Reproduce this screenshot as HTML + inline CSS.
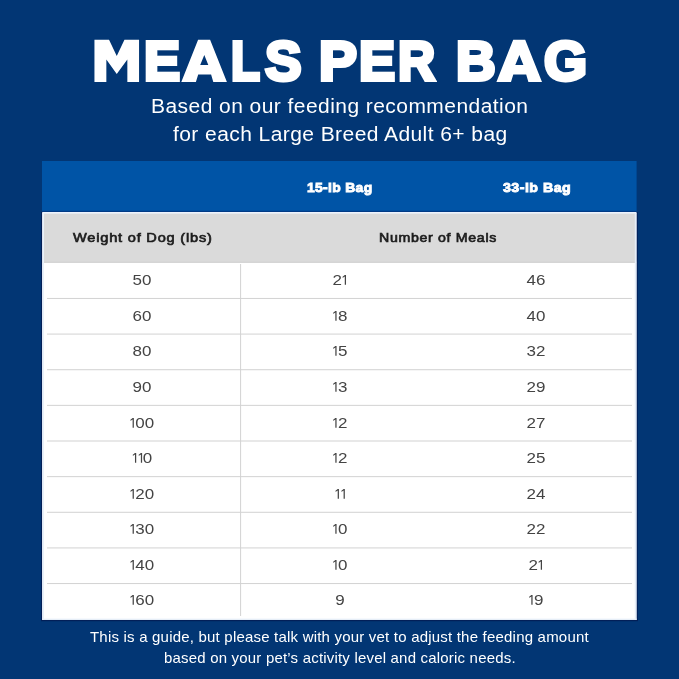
<!DOCTYPE html>
<html>
<head>
<meta charset="utf-8">
<title>Meals Per Bag</title>
<style>
  html, body { margin: 0; padding: 0; }
  body {
    width: 679px; height: 679px; overflow: hidden; position: relative;
    background: #023674;
    font-family: "Liberation Sans", sans-serif;
  }
  #page { position: absolute; left: 0; top: 0; width: 679px; height: 679px; will-change: transform; }
  .t { position: absolute; white-space: nowrap; line-height: 1; transform-origin: 0 0; }
  .tl { font-weight: bold; color: #fff; font-size: 56.0px; -webkit-text-stroke: 3.9px #fff; }
  .tg { position: absolute; fill: #fff; overflow: visible; }
  .sub { color: #fff; -webkit-text-stroke: 0px #fff; }
  #grid { position: absolute; left: 0; top: 0; }
  .bh { font-weight: bold; color: #fff; -webkit-text-stroke: 0.9px #fff; }
  .gh { color: #1c1c1c; -webkit-text-stroke: 0.65px #1c1c1c; }
  .c { position: absolute; width: 80px; height: 20px; line-height: 20px; text-align: center;
       font-size: 14.4px; color: #444; letter-spacing: 0px; transform: scaleX(1.18); }
  .one { display: inline-block; vertical-align: baseline; position: relative; top: -0.5px; margin: 0 0.85px 0 0.8px; fill: #444; overflow: visible; }
  .foot { color: #fff; -webkit-text-stroke: 0px #fff; }
</style>
</head>
<body>
<div id="page">
<div id="title"><svg class="tg" style="left:94px;top:39px" width="47" height="45"><path transform="translate(0.45 0.80)" d="M0 0H14.6L22.3 16.1L30 0H44.6V42.1H32.9V19.6L22.3 34.2L11.9 19.6V42.1H0Z"/></svg><span class="t tl" style="left:144.24px;top:33.0px;transform:scaleX(0.9656)">E</span><svg class="tg" style="left:181px;top:39px" width="48" height="45"><path fill-rule="evenodd" transform="translate(0.30 0.80)" d="M0 42.1L16.8 0H28.8L45.6 42.1H32L29.8 34.6H16.9L14.6 42.1ZM23 15.2L27 25.1H18.9Z"/></svg><span class="t tl" style="left:231.0px;top:33.0px;transform:scaleX(0.8461)">L</span><span class="t tl" style="left:264.53px;top:33.0px;transform:scaleX(0.9777)">S</span><span class="t tl" style="left:319.18px;top:33.0px;transform:scaleX(1.016)">P</span><span class="t tl" style="left:358.61px;top:33.0px;transform:scaleX(0.966)">E</span><span class="t tl" style="left:398.34px;top:33.0px;transform:scaleX(0.9191)">R</span><span class="t tl" style="left:455.85px;top:33.0px;transform:scaleX(0.9797)">B</span><svg class="tg" style="left:496px;top:39px" width="48" height="45"><path fill-rule="evenodd" transform="translate(0.40 0.80)" d="M0 42.1L16.8 0H28.8L45.6 42.1H32L29.8 34.6H16.9L14.6 42.1ZM23 15.2L27 25.1H18.9Z"/></svg><span class="t tl" style="left:543.77px;top:33.0px;transform:scaleX(0.9885)">G</span></div>
<div id="sub1" class="t sub" style="left:150.7px;top:96.55px;font-size:19.5px;letter-spacing:0.42px;transform:scale(1.076,1);">Based on our feeding recommendation</div>
<div id="sub2" class="t sub" style="left:173.07px;top:125.15px;font-size:19.5px;letter-spacing:0.39px;transform:scale(1.0778,1);">for each Large Breed Adult 6+ bag</div>

<svg id="grid" width="679" height="679" viewBox="0 0 679 679">
  <rect x="42" y="161" width="594.6" height="51.5" fill="#0054a6"/>
  <rect x="42" y="212" width="594.6" height="51" fill="#dadada"/>
  <rect x="42" y="262.8" width="594.6" height="357.1" fill="#ffffff"/>
  <rect x="42" y="210.8" width="594.6" height="1.2" fill="#013a85"/>
  <rect x="42" y="212" width="594.6" height="1.6" fill="#edf3fd"/>
  <rect x="42" y="261.6" width="594.6" height="1.2" fill="#d3d3d3"/>
  <rect x="41" y="212" width="1.2" height="409" fill="#021f58"/>
  <rect x="636.6" y="212" width="1.2" height="409" fill="#021f58"/>
  <rect x="41" y="619.9" width="596.8" height="1.3" fill="#021f58"/>
  <rect x="42.2" y="213" width="1.8" height="406.9" fill="#e9f1fa"/>
  <rect x="634.8" y="213" width="1.8" height="406.9" fill="#e7eef8"/>
  <rect x="42.2" y="618.6" width="594.4" height="1.3" fill="#e9f1fa"/>
  <g fill="#d2d2d2">
    <rect x="47" y="297.94" width="585" height="1"/>
    <rect x="47" y="333.58" width="585" height="1"/>
    <rect x="47" y="369.22" width="585" height="1"/>
    <rect x="47" y="404.86" width="585" height="1"/>
    <rect x="47" y="440.50" width="585" height="1"/>
    <rect x="47" y="476.14" width="585" height="1"/>
    <rect x="47" y="511.78" width="585" height="1"/>
    <rect x="47" y="547.42" width="585" height="1"/>
    <rect x="47" y="583.06" width="585" height="1"/>
    <rect x="240.1" y="264" width="1" height="352"/>
  </g>
</svg>

<div id="bh1" class="t bh" style="left:306.89px;top:181.2px;font-size:13.4px;letter-spacing:0.33px;transform:scale(1.0352,1);">15-lb Bag</div>
<div id="bh2" class="t bh" style="left:503.07px;top:181.2px;font-size:13.4px;letter-spacing:0.46px;transform:scale(1.0577,1);">33-lb Bag</div>
<div id="gh1" class="t gh" style="left:73.05px;top:231.55px;font-size:12.6px;letter-spacing:0.7px;transform:scale(1.1559,1);">Weight of Dog (lbs)</div>
<div id="gh2" class="t gh" style="left:378.65px;top:231.55px;font-size:12.6px;letter-spacing:0.61px;transform:scale(1.1236,1);">Number of Meals</div>

<div class="c" style="left:102.40px;top:270px">50</div>
<div class="c" style="left:299.60px;top:270px">2<svg class="one" width="3.1" height="9.7" viewBox="0 0 3.1 9.7"><path d="M2.05 0H3.1V9.7H2.05V1.5L0.45 2.8L0 2.05Z"/></svg></div>
<div class="c" style="left:496.00px;top:270px">46</div>
<div class="c" style="left:102.40px;top:306px">60</div>
<div class="c" style="left:299.60px;top:306px"><svg class="one" width="3.1" height="9.7" viewBox="0 0 3.1 9.7"><path d="M2.05 0H3.1V9.7H2.05V1.5L0.45 2.8L0 2.05Z"/></svg>8</div>
<div class="c" style="left:496.00px;top:306px">40</div>
<div class="c" style="left:102.40px;top:341px">80</div>
<div class="c" style="left:299.60px;top:341px"><svg class="one" width="3.1" height="9.7" viewBox="0 0 3.1 9.7"><path d="M2.05 0H3.1V9.7H2.05V1.5L0.45 2.8L0 2.05Z"/></svg>5</div>
<div class="c" style="left:496.00px;top:341px">32</div>
<div class="c" style="left:102.40px;top:377px">90</div>
<div class="c" style="left:299.60px;top:377px"><svg class="one" width="3.1" height="9.7" viewBox="0 0 3.1 9.7"><path d="M2.05 0H3.1V9.7H2.05V1.5L0.45 2.8L0 2.05Z"/></svg>3</div>
<div class="c" style="left:496.00px;top:377px">29</div>
<div class="c" style="left:102.40px;top:413px"><svg class="one" width="3.1" height="9.7" viewBox="0 0 3.1 9.7"><path d="M2.05 0H3.1V9.7H2.05V1.5L0.45 2.8L0 2.05Z"/></svg>00</div>
<div class="c" style="left:299.60px;top:413px"><svg class="one" width="3.1" height="9.7" viewBox="0 0 3.1 9.7"><path d="M2.05 0H3.1V9.7H2.05V1.5L0.45 2.8L0 2.05Z"/></svg>2</div>
<div class="c" style="left:496.00px;top:413px">27</div>
<div class="c" style="left:102.40px;top:448px"><svg class="one" width="3.1" height="9.7" viewBox="0 0 3.1 9.7"><path d="M2.05 0H3.1V9.7H2.05V1.5L0.45 2.8L0 2.05Z"/></svg><svg class="one" width="3.1" height="9.7" viewBox="0 0 3.1 9.7"><path d="M2.05 0H3.1V9.7H2.05V1.5L0.45 2.8L0 2.05Z"/></svg>0</div>
<div class="c" style="left:299.60px;top:448px"><svg class="one" width="3.1" height="9.7" viewBox="0 0 3.1 9.7"><path d="M2.05 0H3.1V9.7H2.05V1.5L0.45 2.8L0 2.05Z"/></svg>2</div>
<div class="c" style="left:496.00px;top:448px">25</div>
<div class="c" style="left:102.40px;top:484px"><svg class="one" width="3.1" height="9.7" viewBox="0 0 3.1 9.7"><path d="M2.05 0H3.1V9.7H2.05V1.5L0.45 2.8L0 2.05Z"/></svg>20</div>
<div class="c" style="left:299.60px;top:484px"><svg class="one" width="3.1" height="9.7" viewBox="0 0 3.1 9.7"><path d="M2.05 0H3.1V9.7H2.05V1.5L0.45 2.8L0 2.05Z"/></svg><svg class="one" width="3.1" height="9.7" viewBox="0 0 3.1 9.7"><path d="M2.05 0H3.1V9.7H2.05V1.5L0.45 2.8L0 2.05Z"/></svg></div>
<div class="c" style="left:496.00px;top:484px">24</div>
<div class="c" style="left:102.40px;top:519px"><svg class="one" width="3.1" height="9.7" viewBox="0 0 3.1 9.7"><path d="M2.05 0H3.1V9.7H2.05V1.5L0.45 2.8L0 2.05Z"/></svg>30</div>
<div class="c" style="left:299.60px;top:519px"><svg class="one" width="3.1" height="9.7" viewBox="0 0 3.1 9.7"><path d="M2.05 0H3.1V9.7H2.05V1.5L0.45 2.8L0 2.05Z"/></svg>0</div>
<div class="c" style="left:496.00px;top:519px">22</div>
<div class="c" style="left:102.40px;top:555px"><svg class="one" width="3.1" height="9.7" viewBox="0 0 3.1 9.7"><path d="M2.05 0H3.1V9.7H2.05V1.5L0.45 2.8L0 2.05Z"/></svg>40</div>
<div class="c" style="left:299.60px;top:555px"><svg class="one" width="3.1" height="9.7" viewBox="0 0 3.1 9.7"><path d="M2.05 0H3.1V9.7H2.05V1.5L0.45 2.8L0 2.05Z"/></svg>0</div>
<div class="c" style="left:496.00px;top:555px">2<svg class="one" width="3.1" height="9.7" viewBox="0 0 3.1 9.7"><path d="M2.05 0H3.1V9.7H2.05V1.5L0.45 2.8L0 2.05Z"/></svg></div>
<div class="c" style="left:102.40px;top:590px"><svg class="one" width="3.1" height="9.7" viewBox="0 0 3.1 9.7"><path d="M2.05 0H3.1V9.7H2.05V1.5L0.45 2.8L0 2.05Z"/></svg>60</div>
<div class="c" style="left:299.60px;top:590px">9</div>
<div class="c" style="left:496.00px;top:590px"><svg class="one" width="3.1" height="9.7" viewBox="0 0 3.1 9.7"><path d="M2.05 0H3.1V9.7H2.05V1.5L0.45 2.8L0 2.05Z"/></svg>9</div>

<div id="f1" class="t foot" style="left:89.99px;top:630.35px;font-size:14.2px;letter-spacing:0.19px;transform:scale(1.0576,1);">This is a guide, but please talk with your vet to adjust the feeding amount</div>
<div id="f2" class="t foot" style="left:164.14px;top:651.45px;font-size:14.2px;letter-spacing:0.19px;transform:scale(1.0559,1);">based on your pet’s activity level and caloric needs.</div>
</div>
</body>
</html>
